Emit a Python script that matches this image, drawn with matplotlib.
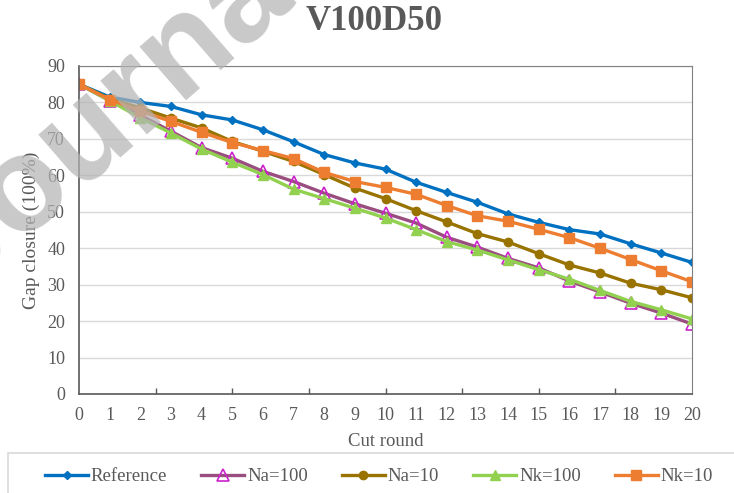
import matplotlib.pyplot as plt
from matplotlib.patches import Rectangle
import numpy as np

plt.rcParams['font.family'] = ['Liberation Serif', 'DejaVu Serif']

rounds = list(range(21))
reference = [85, 81.5, 80, 78.9, 76.6, 75.2, 72.5, 69.2, 65.7, 63.4, 61.7,
             58.1, 55.3, 52.6, 49.4, 47.1, 45.1, 43.9, 41.2, 38.7, 36.1]
na100 = [85, 80.5, 76.5, 72.1, 67.6, 64.7, 61.1, 58.3, 55.1, 52.2, 49.6,
         46.9, 43.0, 40.3, 37.2, 34.6, 31.0, 28.0, 24.9, 22.2, 19.2]
na10 = [85, 81, 78.5, 75.7, 73.0, 69.3, 66.6, 63.8, 60.2, 56.5, 53.6,
        50.3, 47.2, 44.0, 41.7, 38.5, 35.4, 33.2, 30.4, 28.6, 26.4]
nk100 = [85, 80.5, 75.8, 71.6, 67.2, 63.6, 60.2, 56.2, 53.6, 51.0, 48.3,
         45.1, 41.8, 39.5, 36.8, 34.1, 31.5, 28.4, 25.4, 23.1, 20.6]
nk10 = [85, 80.8, 77.6, 74.8, 71.8, 69.0, 66.8, 64.6, 60.8, 58.3, 56.7,
        54.8, 51.7, 48.9, 47.4, 45.2, 42.9, 40.0, 36.9, 33.8, 30.8]

grey = '#595959'

fig = plt.figure(figsize=(7.34, 4.93), dpi=100)
ax = fig.add_axes([79/734, 1 - 394/493, (692 - 79)/734, (394 - 66)/493])

ax.plot(rounds, reference, '-D', color='#0070c0', lw=2.4, ms=4.5, label='Reference')
ax.plot(rounds, na100, '-^', color='#9a4d7f', lw=2.4, ms=8.5, mfc='none',
        mec='#cc22cc', mew=1.2, label='Na=100')
ax.plot(rounds, na10, '-o', color='#997300', lw=2.4, ms=6, label='Na=10')
ax.plot(rounds, nk100, '-^', color='#92d050', lw=2.4, ms=7, label='Nk=100')
ax.plot(rounds, nk10, '-s', color='#ed7d31', lw=2.4, ms=6.5, label='Nk=10')

ax.set_xlim(0, 20)
ax.set_ylim(0, 90)
ax.set_yticks(range(0, 91, 10))
ax.set_xticks(rounds)
ax.set_xticks(np.arange(2.5, 20, 2.5), minor=True)
ax.xaxis.remove_overlapping_locs = False
ax.tick_params(axis='x', which='major', length=0, pad=9, labelsize=13, labelcolor=grey)
ax.tick_params(axis='x', which='minor', length=4, width=1, direction='in', color=grey)
ax.tick_params(axis='y', length=0, pad=10, labelsize=13, labelcolor=grey)
ax.grid(axis='y', color='#d9d9d9', lw=1)
ax.set_axisbelow(True)

for side in ['top', 'right']:
    ax.spines[side].set_color('#808080')
for side in ['left', 'bottom']:
    ax.spines[side].set_color(grey)
    ax.spines[side].set_linewidth(1.2)

ax.set_xlabel('Cut round', fontsize=13.5, color=grey, labelpad=7)
ax.set_ylabel('Gap closure (100%)', fontsize=14, color=grey, labelpad=5)

fig.text(374/734, 1 - 22/493, 'V100D50', fontsize=25, fontweight='bold',
         color=grey, ha='center', va='center')

leg = fig.legend(loc='center left',
                 bbox_to_anchor=(45/734, 1 - 477/493, (713 - 45)/734, 0.001),
                 mode='expand', ncol=5, frameon=False, fontsize=13.5,
                 labelcolor=grey, handlelength=2.3, handletextpad=0.15,
                 borderpad=0, borderaxespad=0)
fig.patches.append(Rectangle((8/734, -0.05), 0.99, 0.05 + (493 - 453)/493,
                             transform=fig.transFigure, fill=False,
                             edgecolor='#d9d9d9', lw=1.2))

# faint watermark across the top-left corner
fig.text(120/734, 1 - 110/493, 'Journal', fontsize=96, family='Liberation Sans',
         fontweight='bold', color='#b4b4b4', alpha=0.72, rotation=41,
         ha='center', va='center', rotation_mode='anchor', zorder=10)

fig.savefig('out.png', dpi=100)
